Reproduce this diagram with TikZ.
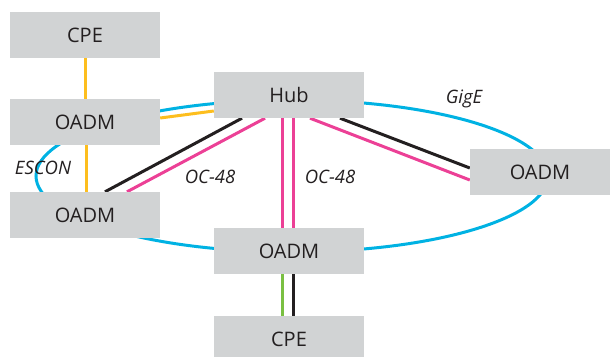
\documentclass[tikz,border=0pt]{standalone}
\usepackage{fontspec}
\setmainfont{Open Sans}
\definecolor{boxgray}{RGB}{209,211,212}
\definecolor{txt}{RGB}{35,31,32}
\definecolor{cyanl}{RGB}{0,178,227}
\definecolor{pinkl}{RGB}{236,64,150}
\definecolor{yell}{RGB}{253,190,30}
\definecolor{greenl}{RGB}{122,192,66}
\definecolor{blackl}{RGB}{35,31,32}
\begin{document}
\begin{tikzpicture}[x=1pt,y=-1pt,
  boxnode/.style={fill=boxgray,minimum width=150pt,minimum height=46pt,inner sep=0pt,text=txt,font=\fontsize{20}{24}\selectfont},
  lab/.style={text=txt,font=\fontsize{18.5}{22}\selectfont\itshape,inner sep=0pt},
  wire/.style={line width=3pt}]
\useasboundingbox (0,0) rectangle (610,356);
% ring
\draw[wire,cyanl] (292,176) ellipse [x radius=256, y radius=76];
% nodes (placed for names)
\node[boxnode] (cpe1) at (85,35) {CPE};
\node[boxnode] (oadm1) at (85,122) {OADM};
\node[boxnode] (oadm2) at (85,215) {OADM};
\node[boxnode] (hub) at (289,95) {Hub};
\node[boxnode,minimum width=140pt] (oadmr) at (540,172) {OADM};
\node[boxnode] (oadmb) at (289,251) {OADM};
\node[boxnode] (cpe2) at (289,339) {CPE};
% wires
\draw[wire,yell] (cpe1.south) -- (oadm1.north);
\draw[wire,yell] ([xshift=1pt]oadm1.south) -- ([xshift=1pt]oadm2.north);
\draw[wire,yell] ([yshift=4pt]oadm1.east) -- ([yshift=-16pt]hub.west);
\draw[wire,blackl] ([xshift=-47pt]hub.south) -- ([xshift=20pt]oadm2.north);
\draw[wire,pinkl] ([xshift=-24pt]hub.south) -- ([xshift=42pt]oadm2.north);
\draw[wire,pinkl] ([xshift=-7pt]hub.south) -- ([xshift=-7pt]oadmb.north);
\draw[wire,pinkl] ([xshift=4pt]hub.south) -- ([xshift=4pt]oadmb.north);
\draw[wire,blackl] ([xshift=51pt]hub.south) -- ([yshift=4pt]oadmr.west);
\draw[wire,pinkl] ([xshift=21pt]hub.south) -- ([yshift=-8pt]oadmr.west);
\draw[wire,greenl] ([xshift=-7pt]oadmb.south) -- ([xshift=-7pt]cpe2.north);
\draw[wire,blackl] ([xshift=4pt]oadmb.south) -- ([xshift=4pt]cpe2.north);
% redraw boxes on top
\node[boxnode] at (cpe1) {CPE};
\node[boxnode] at (oadm1) {OADM};
\node[boxnode] at (oadm2) {OADM};
\node[boxnode] at (hub) {Hub};
\node[boxnode,minimum width=140pt] at (oadmr) {OADM};
\node[boxnode] at (oadmb) {OADM};
\node[boxnode] at (cpe2) {CPE};
% labels
\node[lab] (escon) at (43,168) {ESCON};
\node[lab] (oc1) at (210,177) {OC-48};
\node[lab] (oc2) at (330,177) {OC-48};
\node[lab] (gige) at (464,99) {GigE};
\end{tikzpicture}
\end{document}
